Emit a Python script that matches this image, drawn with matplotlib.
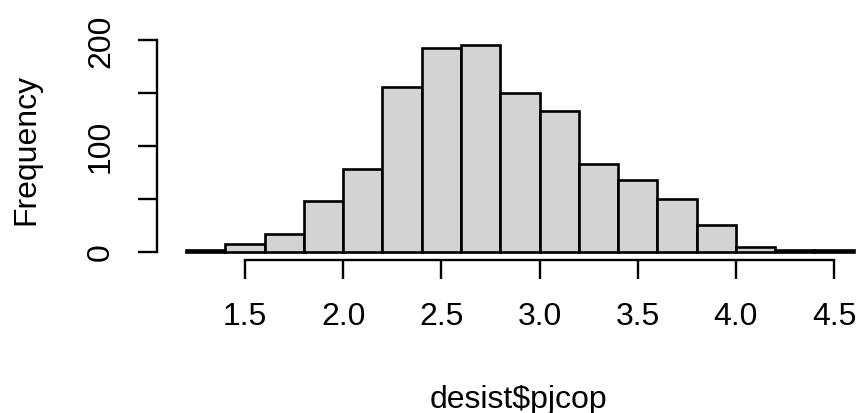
import matplotlib
matplotlib.use("Agg")
import matplotlib.pyplot as plt

# Данные гистограммы (границы корзин и частоты)
breaks = [1.2, 1.4, 1.6, 1.8, 2.0, 2.2, 2.4, 2.6, 2.8, 3.0, 3.2, 3.4, 3.6, 3.8, 4.0, 4.2, 4.4]
counts = [1, 7, 17, 48, 78, 156, 192, 195, 150, 133, 83, 68, 50, 25, 4, 1, 1]
x_ticks = [1.5, 2.0, 2.5, 3.0, 3.5, 4.0, 4.5]
y_ticks = [0, 50, 100, 150, 200]

plt.rcParams['font.family'] = ['Liberation Sans', 'DejaVu Sans']

W, H = 859, 414
fig = plt.figure(figsize=(W / 100, H / 100), dpi=100)

# область графика в пикселях (справа выходит за край картинки, как в R)
x0_px, x1_px = 157, 880
y_top, y_bot = 38, 261
ax = fig.add_axes([x0_px / W, 1 - y_bot / H, (x1_px - x0_px) / W, (y_bot - y_top) / H])

ax.bar(breaks, counts, width=0.2, align='edge', color='#D3D3D3',
       edgecolor='black', linewidth=1.9)

# шкала: 1.5 -> 245 px, 4.5 -> 834 px
ppu = (834 - 245) / 3.0
ax.set_xlim(1.5 - (245 - x0_px) / ppu, 1.5 + (x1_px - 245) / ppu)
ppy = (252.5 - 41) / 200.0
ax.set_ylim(-(y_bot - 252.5) / ppy, (252.5 - y_top) / ppy)

for s in ['top', 'right']:
    ax.spines[s].set_visible(False)
ax.spines['left'].set_bounds(0, 200)
ax.spines['bottom'].set_bounds(1.5, 4.5)
for s in ['left', 'bottom']:
    ax.spines[s].set_linewidth(1.7)

ax.set_xticks(x_ticks)
ax.set_xticklabels([f'{v:.1f}' for v in x_ticks])
ax.set_yticks(y_ticks)
ax.set_yticklabels(['0', '', '100', '', '200'], rotation=90, va='center')
ax.tick_params(axis='both', length=13.5, width=1.7, labelsize=23, pad=16)

ax.set_xlabel('desist$pjcop', fontsize=23, labelpad=38)
ax.set_ylabel('Frequency', fontsize=23, labelpad=32)

fig.savefig('out.png', dpi=100)
